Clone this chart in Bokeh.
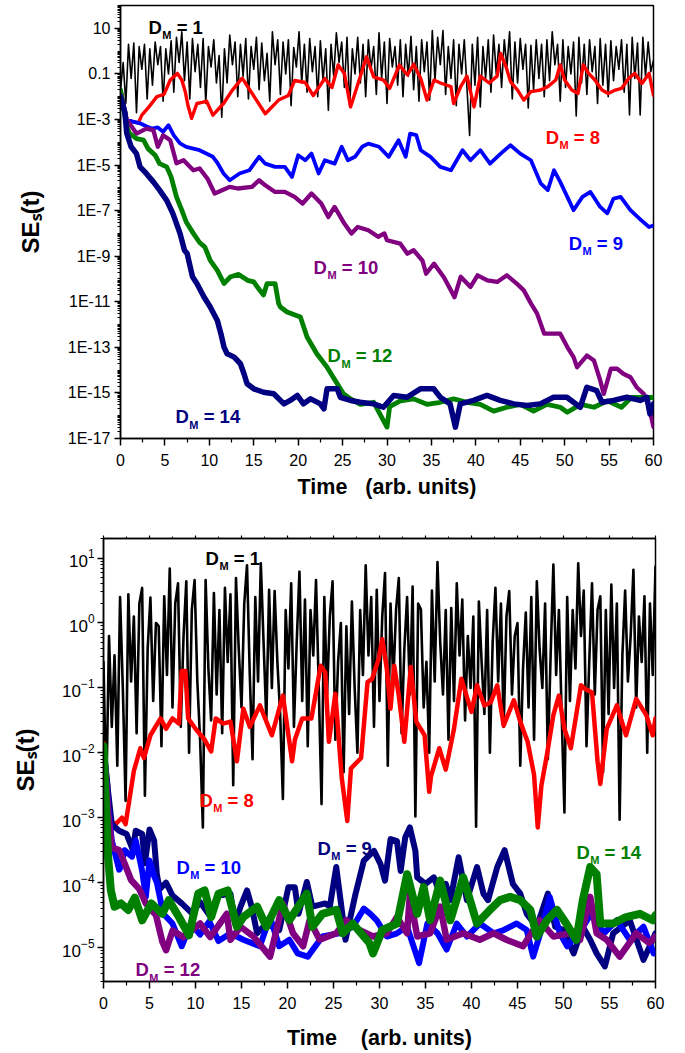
import numpy as np
from bokeh.plotting import figure
from bokeh.layouts import column
from bokeh.models import (FixedTicker, Label, Range1d, CustomJSTickFormatter, LogTickFormatter,
                          LinearAxis)
from bokeh.embed import file_html
from bokeh.resources import INLINE

FONT = "Liberation Sans"
BLACK, RED, BLUE, PURPLE, GREEN, NAVY = "#000000", "#FF0000", "#0000FF", "#800080", "#008000", "#000080"

# ================= TOP PANEL (values are log10 of SE_s) =================
# D_M = 1 : sampled every 0.3 time units
top_d1_log = [
    -1.7, -0.5, -2.3, 0.3, -1.2, 0.35, -2.7, 0.2, -0.8, 0.3,
    -2.1, 0.1, -1.5, 0.4, -0.6, 0.2, -2.2, 0.1, -1.0, 0.45,
    -1.8, 0.6, -0.5, 0.85, -1.3, 0.4, -2.1, 0.55, -0.9, 0.3,
    -1.6, 0.55, -2.3, 0.2, -0.7, 0.5, -1.4, -0.2, -2.9, 0.1,
    -1.4, 0.7, -0.6, 0.4, -2.0, 0.3, -1.1, 0.55, -2.1, 0.2,
    -0.8, 0.6, -1.7, 0.35, -1.3, -0.1, -2.2, 0.85, -0.6, 0.5,
    -1.9, 0.4, -1.0, 0.5, -2.4, 0.15, -0.7, 0.85, -1.4, 0.3,
    -1.8, 0.55, -0.9, 0.2, -2.0, 0.45, -1.3, 0.1, -2.6, 0.3,
    -1.1, 0.8, -0.5, 0.4, -1.6, 0.6, -2.45, 0.1, -1.0, 0.6,
    -1.4, 0.3, -2.0, 0.5, -0.8, 0.2, -1.9, 0.8, -1.2, 0.4,
    -2.3, 0.55, -0.7, 0.2, -1.5, 0.5, -2.0, 0.3, -1.1, 0.65,
    -1.7, 0.2, -2.2, 0.5, -0.9, 0.4, -2.15, 0.9, -1.3, 0.6,
    -0.6, 0.9, -1.9, 0.2, -1.2, 0.5, -2.4, 0.3, -1.0, 0.5,
    -1.6, -3.7, 0.3, -1.5, 0.6, -2.45, 0.2, -1.2, 0.5, -1.8,
    0.7, -1.0, 0.3, -1.6, 0.5, -0.7, 0.85, -2.1, 0.4, -1.4,
    0.55, -0.8, 0.3, -2.5, 0.25, -1.7, 0.5, -1.2, 0.3, -2.0,
    0.5, -1.3, 0.85, -0.6, 0.3, -2.2, 0.5, -1.6, 0.2, -1.0,
    0.4, -2.85, 0.6, -1.4, 0.3, -1.9, 0.5, -0.9, 0.2, -2.3,
    0.55, -1.5, 0.3, -2.0, 0.45, -1.3, 0.2, -0.8, 0.5, -1.8,
    0.3, -2.8, 0.6, -1.2, 0.35, -2.8, 0.6, -1.1, 0.4, -0.9,
    -0.4,
]
top_d1_t = np.linspace(0, 60, len(top_d1_log))

top_d8_t = [0, 0.7, 1.4, 2.0, 2.4, 3.2, 4.1, 4.9, 5.6, 6.4, 6.9, 7.3, 7.6, 8.0, 8.6, 9.2, 9.7,
            10.4, 11.6, 12.6, 13.7, 14.8, 16.3, 17.8, 18.9, 19.6, 20.8, 21.7, 23.0, 23.8, 24.5,
            25.2, 25.9, 26.6, 27.7, 28.5, 29.6, 30.3, 31.4, 32.3, 33.0, 33.8, 34.5, 35.3, 36.0,
            37.2, 37.5, 38.3, 39.0, 39.8, 40.5, 41.5, 42.4, 42.8, 43.4, 43.9, 44.7, 45.4, 46.2,
            47.3, 48.1, 49.0, 49.5, 50.0, 50.8, 51.5, 52.1, 52.7, 53.4, 54.2, 54.9, 55.7, 56.4,
            57.2, 57.9, 58.7, 59.5, 60.0]
top_d8_log = [-1.71, -3.03, -3.1, -3.15, -2.81, -2.45, -2.0, -1.9, -1.27, -0.98, -1.27, -1.8, -2.4,
              -2.95, -2.3, -2.25, -2.2, -2.81, -2.3, -1.71, -1.19, -1.85, -2.75, -2.15, -1.95, -1.29,
              -1.38, -1.95, -1.2, -1.6, -0.61, -0.98, -2.45, -1.6, -0.25, -1.13, -1.27, -1.64, -0.61,
              -1.05, -0.58, -1.2, -2.15, -1.27, -1.4, -1.56, -2.3, -1.56, -1.1, -2.45, -1.1, -1.4,
              -1.1, -0.1, -0.69, -1.34, -1.71, -2.15, -1.78, -1.71, -1.56, -1.27, -0.61, -1.27,
              -1.71, -1.86, -0.61, -0.98, -1.27, -1.71, -1.86, -1.71, -1.64, -1.2, -0.98, -1.42,
              -0.98, -1.94]

top_d9_t = [0, 0.7, 1.4, 2.2, 2.9, 3.5, 4.2, 4.8, 5.4, 6.0, 6.7, 7.4, 8.9, 10.4, 10.9, 11.6, 12.3,
            13.4, 14.5, 15.6, 16.3, 17.4, 18.5, 19.3, 20.0, 20.8, 21.5, 22.3, 23.0, 24.1, 24.9,
            25.6, 26.4, 27.2, 27.9, 29.1, 30.2, 31.3, 32.1, 32.6, 33.3, 33.8, 34.9, 36.0, 37.2,
            38.5, 39.4, 40.5, 41.6, 42.8, 43.9, 45.0, 46.2, 47.3, 48.1, 48.8, 49.5, 50.3, 51.0,
            52.0, 52.9, 54.0, 54.8, 55.5, 56.3, 57.4, 58.6, 59.5, 60.0]
top_d9_log = [-1.7, -3.0, -3.1, -3.17, -3.3, -3.4, -3.35, -3.54, -3.25, -3.7, -4.05, -4.2, -4.35,
              -4.64, -4.9, -5.37, -5.67, -5.37, -5.23, -4.64, -4.94, -5.08, -5.08, -5.52, -4.57,
              -4.79, -4.5, -5.37, -4.79, -4.94, -4.2, -4.79, -4.64, -4.2, -4.06, -4.2, -4.64,
              -3.91, -4.64, -3.62, -3.69, -4.35, -4.64, -5.08, -5.23, -4.35, -4.79, -4.35, -4.94,
              -4.5, -4.13, -4.5, -4.79, -5.8, -6.1, -5.23, -5.74, -6.4, -6.98, -6.4, -6.18, -6.84,
              -7.12, -6.47, -6.4, -6.98, -7.42, -7.72, -7.65]

top_d10_t = [0, 0.7, 1.8, 2.9, 3.7, 4.2, 4.8, 5.6, 6.3, 7.1, 8.2, 8.9, 9.8, 10.6, 11.5, 12.3, 13.2,
             14.8, 15.6, 16.3, 17.4, 18.5, 19.6, 20.5, 21.5, 22.6, 23.4, 24.1, 25.2, 26.0, 26.7,
             27.9, 29.0, 29.7, 30.0, 31.5, 32.3, 33.0, 34.0, 34.4, 35.3, 36.4, 37.2, 37.6, 38.3,
             39.4, 40.2, 41.3, 42.4, 43.5, 44.6, 45.4, 46.2, 46.9, 47.7, 48.8, 49.5, 50.3, 51.0,
             51.4, 52.5, 53.3, 54.0, 54.4, 55.2, 55.9, 56.6, 57.4, 58.1, 58.9, 59.5, 60.0]
top_d10_log = [-1.7, -3.0, -3.62, -3.4, -3.47, -4.2, -3.69, -3.91, -4.92, -4.79, -5.23, -5.15, -5.6,
               -6.25, -6.1, -5.96, -6.03, -5.96, -5.67, -5.89, -6.18, -6.18, -6.4, -6.69, -6.25,
               -6.69, -7.28, -6.84, -7.57, -8.0, -7.72, -7.86, -8.15, -8.0, -8.3, -8.45, -8.89,
               -8.74, -9.2, -9.77, -9.33, -9.92, -10.5, -10.8, -9.9, -10.35, -9.84, -10.06, -10.13,
               -9.84, -10.2, -10.5, -11.07, -11.52, -12.4, -12.4, -12.4, -12.99, -13.43, -13.87,
               -13.36, -13.58, -14.45, -15.04, -13.94, -13.94, -14.16, -14.31, -14.75, -15.04,
               -15.63, -16.5]

top_d12_t = [0, 0.7, 1.0, 1.8, 2.6, 3.1, 3.9, 4.4, 5.2, 5.7, 6.3, 6.9, 7.4, 8.2, 8.9, 9.5, 10.1,
             10.9, 11.65, 12.4, 13.3, 14.3, 15.0, 15.4, 16.1, 16.5, 17.4, 17.8, 18.0, 18.75, 20.25,
             21.0, 22.1, 23.25, 24.4, 25.1, 25.9, 27.0, 28.5, 30.0, 30.3, 31.5, 33.0, 34.5, 36.0,
             37.5, 39.0, 40.5, 42.0, 43.5, 45.0, 46.5, 48.0, 49.5, 50.3, 51.8, 53.3, 54.8, 56.4,
             57.5, 58.6, 60.0]
top_d12_log = [-1.7, -3.3, -3.6, -3.84, -3.91, -4.28, -4.57, -4.94, -5.08, -5.52, -6.4, -6.98, -7.5,
               -8.0, -8.4, -8.6, -9.18, -9.62, -10.2, -9.9, -9.8, -10.06, -10.13, -10.35, -10.7,
               -10.2, -10.2, -11.07, -11.23, -11.45, -11.67, -12.55, -13.28, -13.87, -14.6, -15.04,
               -15.26, -15.5, -15.41, -16.5, -15.6, -15.35, -15.26, -15.5, -15.41, -15.26, -15.41,
               -15.5, -15.8, -15.63, -15.5, -15.8, -15.5, -15.63, -15.85, -15.5, -15.63, -15.35,
               -15.63, -15.2, -15.2, -15.2]

top_d14_t = [0, 0.5, 0.7, 1.2, 1.8, 2.2, 2.9, 3.7, 4.4, 5.2, 5.9, 6.7, 7.2, 7.5, 8.1, 8.6, 9.4,
             10.1, 10.9, 11.3, 11.65, 12.0, 12.8, 13.5, 13.9, 14.25, 15.0, 16.1, 17.25, 18.4, 19.1,
             19.9, 20.6, 21.4, 22.5, 22.9, 23.25, 24.4, 24.75, 25.9, 27.0, 28.5, 29.6, 30.75,
             32.25, 33.75, 35.25, 36.0, 37.1, 37.7, 38.25, 39.75, 41.25, 42.75, 44.25, 45.75,
             47.25, 48.75, 50.25, 51.75, 52.5, 53.6, 54.2, 55.5, 57.0, 58.5, 59.25, 59.6, 60.0]
top_d14_log = [-1.99, -2.7, -3.6, -4.2, -4.5, -5.08, -5.37, -5.74, -6.1, -6.55, -7.13, -8.0, -8.74,
               -8.88, -9.9, -10.2, -10.79, -11.23, -11.82, -12.4, -12.99, -13.28, -13.43, -13.72,
               -14.16, -14.6, -14.82, -14.97, -15.04, -15.48, -15.33, -15.11, -15.48, -15.26,
               -15.48, -15.7, -14.82, -14.82, -15.19, -15.33, -15.41, -15.48, -15.63, -15.11,
               -15.19, -14.82, -14.82, -15.19, -15.48, -16.5, -15.48, -15.33, -15.11, -15.33,
               -15.48, -15.55, -15.48, -15.19, -15.19, -15.63, -14.75, -14.9, -15.41, -15.33,
               -15.19, -15.33, -15.19, -15.92, -15.48]

# ================= BOTTOM PANEL (values are log10 of SE_s) =================
# D_M = 1 : sampled every 0.3 time units
bot_d1_log = [
    -0.6, -2.7, -0.2, -1.6, -0.5, -2.2, 0.4, -1.0, -2.74, 0.44,
    -0.9, 0.1, -1.7, 0.3, 0.54, -2.66, -0.4, 0.39, -1.2, 0.0,
    -0.05, -1.9, 0.41, -0.8, 0.84, -1.3, 0.3, 0.61, -1.6, -0.2,
    0.64, -2.0, 0.2, 0.66, -0.9, -1.8, -3.15, 0.66, -0.7, -1.5,
    0.46, -1.1, 0.2, -1.7, 0.54, -0.6, 0.44, -2.5, 0.69, -0.4,
    -1.3, 0.3, 0.89, -0.8, -2.1, 0.4, -0.9, 0.92, -0.3, -1.5,
    0.51, -1.0, 0.49, -0.6, -1.4, -2.71, 0.2, -0.7, 0.61, -1.6,
    -0.3, 0.79, -1.2, 0.36, -1.9, 0.2, -0.5, 0.66, -1.0, -2.79,
    0.4, -1.1, 0.1, 0.64, -1.8, -0.6, 0.0, -2.3, -0.05, -1.4,
    0.33, -1.0, -2.0, 0.2, -0.8, 0.89, -0.5, 0.4, -1.6, 0.51,
    -1.2, 0.1, 0.77, -2.2, 0.3, -0.9, 0.2, 0.69, -1.7, -0.4,
    0.4, -1.1, 0.56, -2.98, 0.3, 0.21, -1.3, -0.6, -2.0, 0.5,
    -0.9, 0.94, -0.3, -1.1, 0.2, -1.8, 0.23, -1.2, 0.61, -0.5,
    0.36, -1.5, -0.2, -1.0, 0.1, -3.14, 0.33, -0.6, -1.4, 0.2,
    -2.0, -0.3, 0.54, -0.9, 0.3, -1.6, 0.1, 0.49, -1.1, -0.2,
    0.0, -2.2, -0.7, 0.16, -1.3, 0.4, -1.8, 0.64, -0.4, -1.0,
    0.3, -2.1, -0.5, 0.9, -0.8, 0.2, -1.4, -2.92, 0.4, -1.2,
    0.2, -0.7, 0.92, -0.2, 0.5, -1.9, -0.6, 0.61, -1.1, 0.2,
    0.41, -2.3, 0.2, -1.4, 0.59, -1.0, 0.3, -3.03, -0.5, 0.5,
    -0.9, -0.2, 0.82, -1.3, 0.1, -0.6, 0.41, -2.0, 0.3, -0.8,
    0.87,
]
bot_d1_t = np.linspace(0, 60, len(bot_d1_log))

bot_d8_t = [0, 0.5, 0.8, 1.3, 2.0, 2.4, 3.3, 4.0, 4.4, 5.1, 6.2, 6.8, 7.5, 8.2, 8.5, 8.9, 9.2, 10.0,
            11.0, 11.7, 12.2, 13.0, 13.8, 14.5, 15.2, 15.9, 17.0, 18.3, 19.5, 20.5, 20.8, 21.6,
            22.6, 23.6, 24.1, 24.5, 25.2, 25.9, 26.5, 26.9, 28.0, 28.7, 29.2, 29.9, 30.3, 30.8,
            31.2, 31.6, 32.1, 32.7, 33.4, 34.0, 34.9, 35.4, 35.6, 36.5, 37.2, 38.1, 38.9, 40.0,
            40.6, 41.4, 42.1, 42.8, 43.5, 44.6, 45.3, 46.1, 46.8, 47.2, 47.6, 48.2, 48.9, 49.5,
            50.1, 50.8, 51.9, 52.4, 53.1, 53.7, 54.0, 54.7, 55.8, 56.8, 57.9, 59.0, 59.7, 60.0]
bot_d8_log = [-1.85, -2.5, -3.05, -3.1, -3.0, -3.1, -2.28, -1.93, -2.08, -1.73, -1.47, -1.63, -1.47,
              -1.55, -0.74, -0.74, -1.47, -1.63, -1.8, -1.98, -1.47, -1.55, -1.52, -2.13, -1.32,
              -1.6, -1.27, -1.73, -1.12, -2.13, -1.8, -1.47, -1.47, -0.66, -0.76, -1.83, -1.09,
              -2.39, -3.05, -2.24, -2.08, -0.91, -0.86, -0.56, -0.25, -0.71, -1.32, -0.66, -1.12,
              -1.83, -0.68, -1.52, -1.73, -2.6, -2.36, -1.93, -2.26, -1.63, -0.86, -1.37, -0.96,
              -1.27, -1.22, -0.96, -1.58, -1.19, -1.52, -1.83, -2.34, -3.15, -2.5, -2.03, -1.42,
              -1.12, -1.63, -1.93, -0.96, -1.02, -1.07, -2.13, -2.48, -1.63, -1.27, -1.73, -1.17,
              -1.42, -1.73, -1.47]

bot_d9_t = [0, 0.5, 0.9, 1.7, 2.5, 3.2, 3.5, 4.2, 4.5, 5.0, 5.5, 5.8, 6.1, 6.8, 7.5, 8.5, 9.6, 10.5,
            11.5, 12.5, 13.8, 14.3, 14.9, 15.6, 16.1, 16.7, 17.7, 19.1, 20.1, 20.8, 21.2, 22.1,
            22.7, 24.1, 24.6, 25.3, 25.9, 26.3, 27.4, 28.3, 29.4, 30.1, 30.6, 31.2, 31.9, 32.3,
            32.8, 33.3, 33.9, 34.1, 35.0, 35.9, 36.6, 37.2, 37.7, 38.6, 39.5, 40.6, 41.3, 41.8,
            42.8, 43.6, 44.5, 45.3, 46.0, 47.1, 48.3, 49.1, 50.0, 51.1, 52.1, 52.9, 53.6, 54.5,
            55.4, 57.2, 58.7, 60.0]
bot_d9_log = [-1.9, -2.6, -3.1, -3.2, -3.25, -3.5, -3.2, -3.25, -3.7, -3.18, -3.35, -3.87, -4.1,
              -4.0, -4.2, -4.32, -4.47, -4.3, -4.5, -4.2, -4.17, -4.63, -4.37, -4.12, -4.37, -4.78,
              -4.63, -4.73, -4.07, -4.07, -4.48, -3.99, -4.37, -4.32, -4.37, -3.76, -4.42, -4.88,
              -4.17, -3.66, -3.51, -3.71, -3.97, -3.33, -3.36, -3.82, -3.3, -3.15, -3.51, -3.92,
              -4.02, -3.92, -4.17, -4.02, -4.27, -3.61, -4.27, -3.76, -4.17, -4.27, -3.76, -3.5,
              -4.02, -4.17, -4.48, -4.68, -4.17, -4.68, -4.73, -5.09, -4.68, -4.88, -5.09, -5.29,
              -4.78, -4.58, -5.19, -4.78]

bot_d10_t = [0, 0.5, 0.9, 1.7, 1.9, 2.3, 3.1, 3.5, 4.2, 4.6, 5.0, 5.5, 5.8, 6.5, 7.5, 8.5, 9.5, 10.5,
             11.5, 12.5, 13.8, 15.2, 17.0, 18.1, 19.1, 20.2, 21.1, 22.2, 23.8, 25.6, 27.1, 28.3,
             29.0, 29.7, 30.8, 31.9, 33.0, 34.3, 35.2, 36.3, 37.3, 38.4, 39.5, 40.9, 42.4, 43.5,
             44.9, 46.0, 46.7, 47.8, 48.5, 49.6, 50.4, 51.9, 53.0, 54.4, 55.8, 57.2, 58.7, 59.8]
bot_d10_log = [-1.9, -2.8, -3.35, -3.8, -3.75, -3.5, -3.6, -3.35, -3.82, -4.22, -3.66, -3.9, -4.0,
               -4.48, -4.63, -4.98, -4.63, -4.8, -4.6, -4.9, -4.78, -4.88, -4.98, -4.53, -4.98,
               -4.88, -5.09, -5.14, -4.83, -4.78, -4.68, -4.4, -4.48, -4.58, -4.83, -4.78, -4.68,
               -5.24, -4.63, -4.78, -5.03, -4.63, -4.83, -4.63, -4.78, -4.73, -4.63, -4.73, -5.14,
               -4.63, -4.22, -4.78, -4.98, -4.73, -4.48, -4.78, -4.58, -4.88, -4.68, -5.09]

bot_d12_t = [0, 0.5, 0.9, 1.7, 2.0, 3.0, 3.9, 4.6, 5.7, 6.4, 6.8, 7.5, 8.7, 10.5, 11.6, 13.4, 13.8,
             14.9, 16.3, 18.1, 19.5, 20.6, 21.7, 22.4, 23.5, 25.3, 26.4, 27.8, 29.3, 30.8, 31.9,
             33.0, 33.3, 34.1, 35.5, 36.6, 37.3, 39.1, 40.9, 42.4, 43.8, 45.6, 47.4, 48.9, 50.7,
             51.8, 52.9, 53.6, 54.7, 56.1, 57.9, 59.3, 60.0]
bot_d12_log = [-1.9, -2.9, -3.46, -3.5, -3.6, -3.96, -4.1, -4.32, -4.5, -4.91, -5.04, -4.74, -4.84,
               -4.63, -4.84, -4.48, -4.88, -4.68, -4.83, -5.14, -4.32, -4.78, -4.98, -4.58, -4.88,
               -4.78, -4.58, -4.73, -4.83, -4.78, -4.53, -4.78, -4.19, -4.83, -4.78, -4.37, -4.88,
               -4.78, -4.88, -4.78, -4.88, -4.98, -4.58, -4.83, -4.78, -4.88, -4.22, -4.78, -4.88,
               -5.14, -4.78, -4.93, -4.83]

bot_d14_t = [0, 0.2, 0.5, 0.8, 1.2, 1.9, 2.7, 3.4, 4.2, 5.2, 6.4, 7.1, 8.2, 9.3, 10.3, 11.0, 11.7,
             12.5, 13.5, 14.5, 15.2, 16.7, 17.7, 19.1, 20.2, 22.1, 22.7, 23.8, 25.3, 26.0, 27.1,
             28.9, 29.3, 30.3, 31.9, 33.0, 34.1, 34.8, 35.5, 36.6, 37.7, 39.1, 40.6, 42.0, 43.1,
             44.2, 45.3, 46.4, 47.1, 48.2, 49.3, 50.3, 51.4, 52.1, 52.9, 53.6, 54.0, 55.4, 56.8,
             58.3, 59.7, 60.0]
bot_d14_log = [-1.9, -2.6, -3.6, -4.12, -4.37, -4.32, -4.42, -4.23, -4.58, -4.32, -4.48, -4.27,
               -4.53, -4.81, -4.17, -4.12, -4.53, -4.17, -4.12, -4.68, -4.53, -4.37, -4.68, -4.27,
               -4.58, -4.17, -4.68, -4.48, -4.42, -4.78, -4.63, -4.93, -5.09, -4.73, -4.63, -3.87,
               -4.48, -4.07, -4.58, -3.97, -4.58, -3.92, -4.63, -4.42, -4.27, -4.22, -4.27, -4.42,
               -4.83, -4.58, -4.42, -4.63, -4.88, -4.27, -3.76, -3.87, -4.63, -4.63, -4.53, -4.48,
               -4.58, -4.5]

# tick values
x_major = list(range(0, 61, 5))
x_minor = [2.5 + 5 * k for k in range(12)]
top_major_exp = list(range(-17, 3, 2))
bot_major_exp = list(range(-5, 2))

# legend label anchors: (time, log10 value at baseline, text, color)
top_labels = [(3.15, 1.055, "1", BLACK), (47.86, -3.78, "8", RED), (50.45, -8.43, "9", BLUE),
              (21.73, -9.49, "10", PURPLE), (23.31, -13.36, "12", GREEN), (6.19, -16.04, "14", NAVY)]
bot_labels = [(11.09, 1.0, "1", BLACK), (10.43, -2.73, "8", RED), (23.26, -3.47, "9", NAVY),
              (7.93, -3.76, "10", BLUE), (3.48, -5.34, "12", PURPLE), (51.4, -3.53, "14", GREEN)]


def L(a):
    return 10.0 ** np.asarray(a, dtype=float)


def style(p, ymaj, ymin, xtitle):
    p.grid.visible = False
    p.outline_line_color = "black"
    p.outline_line_width = 1.5
    p.background_fill_color = "white"
    p.border_fill_color = "white"
    try:
        p.frame_align = False
    except Exception:
        pass
    p.xaxis.ticker = FixedTicker(ticks=x_major, minor_ticks=x_minor)
    p.yaxis.ticker = FixedTicker(ticks=ymaj, minor_ticks=ymin)
    for ax in (p.xaxis, p.yaxis):
        ax.axis_line_width = 1.5
        ax.major_tick_line_width = 1.5
        ax.minor_tick_line_width = 1.2
        ax.major_tick_in = 0
        ax.minor_tick_in = 0
        ax.major_label_text_font = FONT
        ax.major_label_text_font_size = "16px"
        ax.major_label_text_color = "black"
        ax.axis_label_text_font = FONT
        ax.axis_label_text_font_style = "bold"
        ax.axis_label_text_color = "black"
    p.xaxis.major_tick_out = 7
    p.xaxis.minor_tick_out = 4
    p.yaxis.major_tick_out = 6
    p.yaxis.minor_tick_out = 3
    p.xaxis.axis_label = xtitle
    p.xaxis.axis_label_text_font_size = "21.5px"
    p.yaxis.axis_label = "SE\u209b(t)"
    p.yaxis.axis_label_text_font_size = "24px"


def dm_label(p, t, lg, n, color, F=18.5, f=11):
    common = dict(text_color=color, text_font=FONT, text_font_style="bold",
                  text_baseline="alphabetic", x=t, y=10.0 ** lg)
    p.add_layout(Label(text="D", text_font_size=f"{F}px", **common))
    dx = 0.722 * F + 0.5
    p.add_layout(Label(text="M", text_font_size=f"{f}px", x_offset=dx, y_offset=-8, **common))
    dx2 = dx + 0.833 * f + 0.278 * F
    p.add_layout(Label(text=f"= {n}", text_font_size=f"{F}px", x_offset=dx2, **common))


def curve(p, t, lg, color, w):
    p.line(t, L(lg), line_color=color, line_width=w, line_join="round", line_cap="round")


# ---------------- top figure ----------------
p1 = figure(width=685, height=518, x_range=Range1d(0, 60), y_range=Range1d(1e-17, 1e2),
            y_axis_type="log", output_backend="svg", toolbar_location=None,
            min_border_left=120, min_border_right=32, min_border_top=5, min_border_bottom=80)
top_minor = [k * 10.0 ** e for e in range(-17, 2) for k in range(1, 10)
             if not (k == 1 and e in top_major_exp)] + [1e2]
style(p1, [10.0 ** e for e in top_major_exp], top_minor, "Time\u00a0\u00a0\u00a0(arb. units)")
p1.yaxis.formatter = CustomJSTickFormatter(code="""
const e = Math.round(Math.log10(tick));
if (e == 1) return "10";
if (e == -1) return "0.1";
return "1E" + e;
""")
p1.yaxis.major_label_standoff = 4
p1.yaxis.axis_label_standoff = 21
p1.xaxis.major_label_standoff = 8
p1.xaxis.axis_label_standoff = 6
curve(p1, top_d1_t, top_d1_log, BLACK, 1.6)
curve(p1, top_d8_t, top_d8_log, RED, 3.4)
curve(p1, top_d9_t, top_d9_log, BLUE, 3.8)
curve(p1, top_d10_t, top_d10_log, PURPLE, 4.3)
curve(p1, top_d12_t, top_d12_log, GREEN, 4.8)
curve(p1, top_d14_t, top_d14_log, NAVY, 5.5)
for t, lg, n, c in top_labels:
    dm_label(p1, t, lg, n, c)

# ---------------- bottom figure ----------------
p2 = figure(width=685, height=534, x_range=Range1d(0, 60), y_range=Range1d(3e-6, 20),
            y_axis_type="log", output_backend="svg", toolbar_location=None,
            min_border_left=103, min_border_right=30, min_border_top=20, min_border_bottom=67)
bot_minor = [k * 10.0 ** e for e in range(-6, 2) for k in range(1, 10)
             if not (k == 1 and e in bot_major_exp)]
style(p2, [10.0 ** e for e in bot_major_exp], bot_minor, "Time\u00a0\u00a0\u00a0\u00a0(arb. units)")
p2.yaxis.formatter = LogTickFormatter()
p2.yaxis.major_label_text_font_size = "17px"
p2.yaxis.major_label_standoff = 3
p2.yaxis.axis_label_standoff = 20
p2.xaxis.major_label_standoff = 8
p2.xaxis.axis_label_standoff = 14

# small ticks along the top edge of the lower panel
top_ax = LinearAxis(ticker=FixedTicker(ticks=x_major, minor_ticks=x_minor),
                    formatter=CustomJSTickFormatter(code='return "";'),
                    axis_line_width=1.5, major_tick_line_width=1.2, minor_tick_line_width=1.0,
                    major_tick_in=0, minor_tick_in=0, major_tick_out=3, minor_tick_out=2,
                    major_label_text_font_size="1px", major_label_standoff=0)
p2.add_layout(top_ax, "above")

curve(p2, bot_d1_t, bot_d1_log, BLACK, 2.6)
curve(p2, bot_d8_t, bot_d8_log, RED, 4.5)
curve(p2, bot_d9_t, bot_d9_log, NAVY, 6)
curve(p2, bot_d10_t, bot_d10_log, BLUE, 6)
curve(p2, bot_d12_t, bot_d12_log, PURPLE, 6.5)
curve(p2, bot_d14_t, bot_d14_log, GREEN, 8)
for t, lg, n, c in bot_labels:
    dm_label(p2, t, lg, n, c)

layout = column(p1, p2)
open("out.html", "w").write(file_html(layout, INLINE))
